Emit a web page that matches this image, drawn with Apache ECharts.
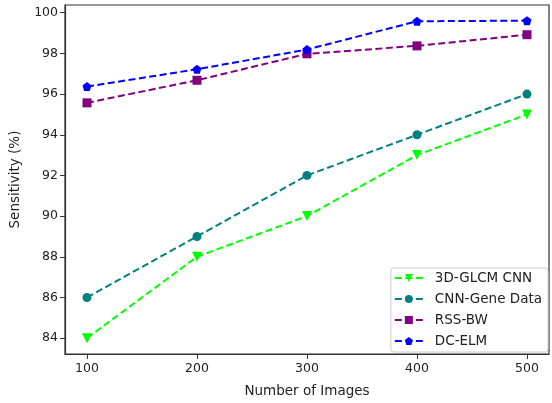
<!DOCTYPE html>
<html><head><meta charset="utf-8">
<script src="https://cdn.jsdelivr.net/npm/echarts@6/dist/echarts.min.js"></script>
<style>html,body{margin:0;padding:0;background:#fff}#c{width:552px;height:403px}</style>
</head><body><div id="c"></div>
<script>
const xValues = [100, 200, 300, 400, 500];
const xTicks = [100, 200, 300, 400, 500];
const yTicks = [84, 86, 88, 90, 92, 94, 96, 98, 100];
const glcm = [84, 88, 90, 93, 95];
const cnnGene = [86, 89, 92, 94, 96];
const rssBw = [95.57, 96.68, 97.98, 98.37, 98.92];
const dcElm = [96.37, 97.22, 98.19, 99.58, 99.61];

const pentagon = 'path://M0,-1 L0.951,-0.309 L0.588,0.809 L-0.588,0.809 L-0.951,-0.309 Z';
const font = 'DejaVu Sans';
function mk(name, data, color, symbol, size, rotate) {
  return {
    name, type: 'line', data: xValues.map((x, i) => [x, data[i]]),
    symbol, symbolSize: size, symbolRotate: rotate || 0,
    itemStyle: { color: color, borderWidth: 0 },
    lineStyle: { color: color, width: 2, type: [7, 3.5] },
    emphasis: { disabled: true }, animation: false
  };
}
const chart = echarts.init(document.getElementById('c'), null, { renderer: 'canvas' });
chart.setOption({
  animation: false,
  textStyle: { fontFamily: font },
  grid: { left: 65, right: 3, top: 5, bottom: 46, show: true, borderColor: '#333', borderWidth: 1.2, backgroundColor: 'transparent' },
  xAxis: {
    type: 'value', min: 80, max: 520,
    name: 'Number of Images', nameLocation: 'middle', nameGap: 30,
    nameTextStyle: { fontFamily: font, fontSize: 13.5, color: '#222' },
    axisLine: { show: true, lineStyle: { color: '#333', width: 1.2 } },
    axisTick: { show: true, length: 5, customValues: xTicks, lineStyle: { color: '#333' } },
    axisLabel: { customValues: xTicks, fontFamily: font, fontSize: 12.5, color: '#222', margin: 8 },
    splitLine: { show: false }
  },
  yAxis: {
    type: 'value', min: 83.22, max: 100.38,
    name: 'Sensitivity (%)', nameLocation: 'middle', nameGap: 43, nameRotate: 90,
    nameTextStyle: { fontFamily: font, fontSize: 13.5, color: '#222' },
    axisLine: { show: true, lineStyle: { color: '#333', width: 1.2 } },
    axisTick: { show: true, length: 5, customValues: yTicks, lineStyle: { color: '#333' } },
    axisLabel: { customValues: yTicks, fontFamily: font, fontSize: 12.5, color: '#222', margin: 7 },
    splitLine: { show: false }
  },
  legend: {
    orient: 'vertical', right: 4, bottom: 51,
    backgroundColor: '#fff', borderColor: '#ccc', borderWidth: 1, borderRadius: 3,
    padding: [3, 6, 4, 3], itemGap: 7, itemWidth: 28, itemHeight: 10,
    textStyle: { fontFamily: font, fontSize: 13.5, color: '#222', padding: [0, 0, 0, 7] },
    data: ['3D-GLCM CNN', 'CNN-Gene Data', 'RSS-BW', 'DC-ELM']
  },
  series: [
    mk('3D-GLCM CNN', glcm, '#00ff00', 'triangle', 10, 180),
    mk('CNN-Gene Data', cnnGene, '#008080', 'circle', 9),
    mk('RSS-BW', rssBw, '#800080', 'rect', 9),
    mk('DC-ELM', dcElm, '#0000ff', pentagon, 9)
  ]
});
</script></body></html>
